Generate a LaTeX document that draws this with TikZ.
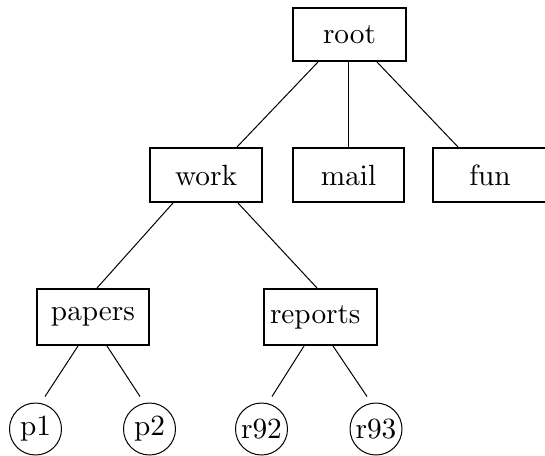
\documentclass[tikz,border=0pt]{standalone}
\usetikzlibrary{calc}
\font\treefont=cmr10 at 29.3pt
\begin{document}
\begin{tikzpicture}[x=1pt,y=-1pt,
  every node/.style={font=\treefont},
  box/.style={draw, line width=2pt, inner sep=0pt, minimum height=54pt},
  leaf/.style={draw, circle, line width=1pt, inner sep=0pt, minimum size=52pt},
  edge/.style={line width=1pt}]
\useasboundingbox (0,0) rectangle (545,455);
\node[box, minimum width=113pt, minimum height=53pt] (root) at (349.5,34.5) {root};
\node[box, minimum width=112pt] (work) at (206,175) {work};
\node[box, minimum width=111pt] (mail) at (348.5,175) {mail};
\node[box, minimum width=114pt] (fun) at (490,175) {fun};
\node[box, minimum width=112pt, minimum height=56pt] (papers) at (93,317) {papers};
\node[box, minimum width=113pt, minimum height=56pt, text width=101pt, align=left] (reports) at (320.5,317) {reports};
\node[leaf] (p1) at (35.5,429) {p1};
\node[leaf] (p2) at (149.5,429) {p2};
\node[leaf] (r92) at (261.5,429) {r92};
\node[leaf] (r93) at (376,429) {r93};
\draw[edge] ($(root.south)+(-31.5,0)$) -- ($(work.north)+(31,0)$);
\draw[edge] (mail.north) -- (mail.north |- root.south);
\draw[edge] ($(root.south)+(27.5,0)$) -- ($(fun.north)+(-32,0)$);
\draw[edge] ($(work.south)+(-33,0)$) -- ($(papers.north)+(4,0)$);
\draw[edge] ($(work.south)+(32,0)$) -- ($(reports.north)+(-3.5,0)$);
\draw[edge] ($(papers.south)+(-15,0)$) -- ($(p1.north)+(9.5,-6)$);
\draw[edge] ($(papers.south)+(14,0)$) -- ($(p2.north)+(-9.5,-6)$);
\draw[edge] ($(reports.south)+(-16.5,0)$) -- ($(r92.north)+(10.5,-6)$);
\draw[edge] ($(reports.south)+(12.5,0)$) -- ($(r93.north)+(-9,-6)$);
\end{tikzpicture}
\end{document}
